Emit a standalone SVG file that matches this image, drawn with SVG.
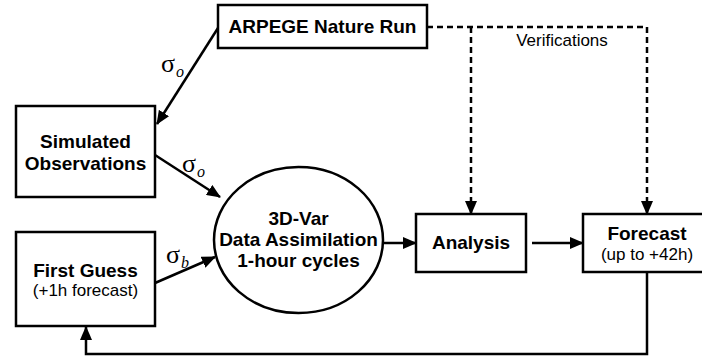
<svg xmlns="http://www.w3.org/2000/svg" width="702" height="356" viewBox="0 0 702 356">
<style>
.box{fill:#fff;stroke:#000;stroke-width:2.5}
.b{font-family:"Liberation Sans",Arial,sans-serif;font-weight:bold;font-size:19px;text-anchor:middle;fill:#000}
.r{font-family:"Liberation Sans",Arial,sans-serif;font-size:17px;text-anchor:middle;fill:#000}
.s{font-family:"Liberation Serif","Times New Roman",serif;font-size:26px;fill:#000}
.sub{font-family:"Liberation Serif","Times New Roman",serif;font-style:italic;font-size:16px}
.c{fill:none;stroke:#000;stroke-width:2.5}
.d{fill:none;stroke:#000;stroke-width:2.5;stroke-dasharray:6,4}
</style>
<defs>
<marker id="ah" markerUnits="userSpaceOnUse" markerWidth="14" markerHeight="12" refX="13" refY="6" orient="auto">
<path d="M0,0 L14,6 L0,12 Z" fill="#000"/>
</marker>
</defs>
<rect width="702" height="356" fill="#fff"/>
<g id="connectors">
<line class="c" x1="218" y1="28" x2="157" y2="124" marker-end="url(#ah)"/>
<line class="c" x1="155" y1="155" x2="220" y2="197" marker-end="url(#ah)"/>
<line class="c" x1="155" y1="283" x2="215" y2="257" marker-end="url(#ah)"/>
<line class="c" x1="383" y1="243" x2="416" y2="243" marker-end="url(#ah)"/>
<line class="c" x1="532" y1="243" x2="583" y2="243" marker-end="url(#ah)"/>
<polyline class="c" points="647,272 647,354 86,354 86,327" marker-end="url(#ah)"/>
<polyline class="d" points="427,27 647,27"/>
<line class="d" x1="471" y1="27" x2="471" y2="214" marker-end="url(#ah)"/>
<line class="d" x1="647" y1="27" x2="647" y2="214" marker-end="url(#ah)"/>
<text class="r" x="562" y="46">Verifications</text>
<text class="s" x="161" y="72">σ<tspan class="sub" dx="1" dy="5">o</tspan></text>
<text class="s" x="182" y="172">σ<tspan class="sub" dx="1" dy="5">o</tspan></text>
<text class="s" x="166" y="263">σ<tspan class="sub" dx="1" dy="5">b</tspan></text>
</g>
<g id="arpege">
<rect class="box" x="218" y="5" width="209" height="43"/>
<text class="b" x="322.5" y="33">ARPEGE Nature Run</text>
</g>
<g id="simobs">
<rect class="box" x="16" y="106" width="139" height="91"/>
<text class="b" x="85.5" y="148">Simulated</text>
<text class="b" x="85.5" y="170">Observations</text>
</g>
<g id="firstguess">
<rect class="box" x="16" y="232" width="139" height="94"/>
<text class="b" x="85.5" y="277">First Guess</text>
<text class="r" x="85.5" y="296">(+1h forecast)</text>
</g>
<g id="da">
<ellipse class="box" cx="298.5" cy="240" rx="84.5" ry="73"/>
<text class="b" x="298.5" y="225">3D-Var</text>
<text class="b" x="298.5" y="246">Data Assimilation</text>
<text class="b" x="298.5" y="267">1-hour cycles</text>
</g>
<g id="analysis">
<rect class="box" x="416" y="214" width="110" height="58"/>
<text class="b" x="471" y="249">Analysis</text>
</g>
<g id="forecast">
<rect class="box" x="583" y="214" width="128" height="58"/>
<text class="b" x="647" y="240">Forecast</text>
<text class="r" x="647" y="260">(up to +42h)</text>
</g>
</svg>
